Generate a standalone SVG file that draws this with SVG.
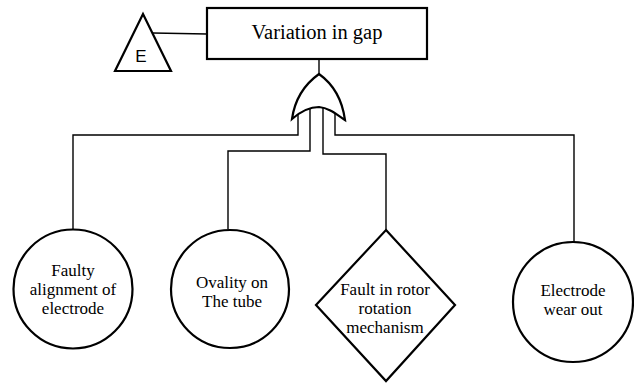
<svg xmlns="http://www.w3.org/2000/svg" width="634" height="383" viewBox="0 0 634 383">
<style>
.shape{fill:#fff;stroke:#000;stroke-width:2.2}
.conn{fill:none;stroke:#000;stroke-width:1.4}
text{fill:#000;text-anchor:middle}
.sf{font-family:"Liberation Serif","Times New Roman",serif}
</style>
<rect width="634" height="383" fill="#fff"/>
<g id="connectors">
<line class="conn" x1="153" y1="33" x2="207" y2="34"/>
<line class="conn" x1="319" y1="59" x2="319" y2="76"/>
<polyline class="conn" points="298,105 298,135 73,135 73,229"/>
<polyline class="conn" points="310,105 310,151 228,151 228,229"/>
<polyline class="conn" points="323,105 323,154 386,154 386,230"/>
<polyline class="conn" points="335,105 335,135 574,135 574,242"/>
</g>
<g id="top-event">
<rect class="shape" x="207" y="8" width="220" height="51"/>
<text class="sf" x="317" y="39" font-size="20.5">Variation in gap</text>
</g>
<g id="transfer-E">
<polygon class="shape" points="143,14 115,71 171,71"/>
<text x="141" y="62" font-family="Liberation Sans, Arial, sans-serif" font-size="17">E</text>
</g>
<g id="or-gate">
<path class="shape" d="M292,119 C295,98 305,84 319,74 C333,84 342,98 345,120 C336,114 329,108 319,107 C309,107 300,112 292,119 Z"/>
</g>
<g class="sf" font-size="17">
<g id="faulty-alignment">
<circle class="shape" cx="73" cy="289" r="59.5"/>
<text x="73" y="276">Faulty</text>
<text x="73" y="295">alignment of</text>
<text x="73" y="314">electrode</text>
</g>
<g id="ovality">
<circle class="shape" cx="230" cy="289" r="59"/>
<text x="232" y="288">Ovality on</text>
<text x="232" y="307">The tube</text>
</g>
<g id="rotor-fault">
<polygon class="shape" points="386,230 455,305 386,381 316,305"/>
<text x="385" y="295">Fault in rotor</text>
<text x="385" y="314">rotation</text>
<text x="385" y="333">mechanism</text>
</g>
<g id="electrode-wear">
<circle class="shape" cx="573" cy="302" r="60"/>
<text x="573" y="296">Electrode</text>
<text x="573" y="315">wear out</text>
</g>
</g>
</svg>
